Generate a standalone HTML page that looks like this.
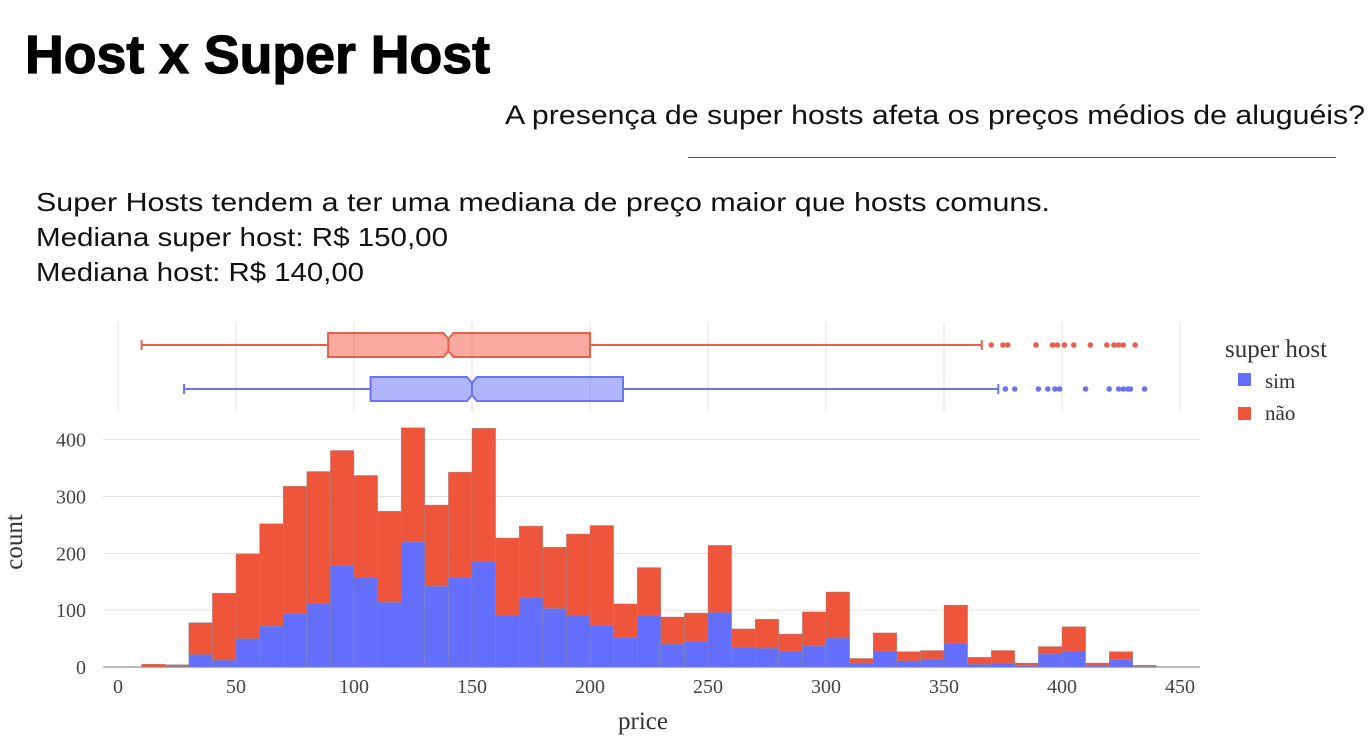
<!DOCTYPE html>
<html><head><meta charset="utf-8"><style>
html,body{margin:0;padding:0;background:#fff;}
svg{display:block;}
</style></head><body>
<svg id="chart" width="1370" height="747" viewBox="0 0 1370 747" xmlns="http://www.w3.org/2000/svg">
<text x="25" y="73" font-family="Liberation Sans, sans-serif" font-weight="bold" font-size="54" textLength="465" lengthAdjust="spacingAndGlyphs" fill="#000" stroke="#000" stroke-width="1.2">Host x Super Host</text>
<text x="505" y="124" font-family="Liberation Sans, sans-serif" font-size="27" textLength="860" lengthAdjust="spacingAndGlyphs" fill="#111">A presença de super hosts afeta os preços médios de aluguéis?</text>
<line x1="688" y1="157.5" x2="1336" y2="157.5" stroke="#555" stroke-width="1"/>
<text x="36" y="211" font-family="Liberation Sans, sans-serif" font-size="26" textLength="1014" lengthAdjust="spacingAndGlyphs" fill="#111">Super Hosts tendem a ter uma mediana de preço maior que hosts comuns.</text>
<text x="36" y="246" font-family="Liberation Sans, sans-serif" font-size="26" textLength="412" lengthAdjust="spacingAndGlyphs" fill="#111">Mediana super host: R$ 150,00</text>
<text x="36" y="281" font-family="Liberation Sans, sans-serif" font-size="26" textLength="328" lengthAdjust="spacingAndGlyphs" fill="#111">Mediana host: R$ 140,00</text>
<g id="grid"></g>
<g id="bars"></g>
<g id="boxes"></g>
<g id="axes"></g>
<text x="643" y="729" text-anchor="middle" font-family="Liberation Serif, serif" font-size="25" fill="#333">price</text>
<text transform="translate(22,542) rotate(-90)" text-anchor="middle" font-family="Liberation Serif, serif" font-size="25" fill="#333">count</text>
<g>
<text x="1225" y="357" font-family="Liberation Serif, serif" font-size="25" fill="#333">super host</text>
<rect x="1238" y="373" width="13" height="13" fill="#636EFA"/>
<text x="1265" y="388" font-family="Liberation Serif, serif" font-size="21" fill="#333">sim</text>
<rect x="1238" y="407" width="13" height="13" fill="#EF553B"/>
<text x="1265" y="420" font-family="Liberation Serif, serif" font-size="21" fill="#333">não</text>
</g>
</svg>
<script>
const binStarts = [10,20,30,40,50,60,70,80,90,100,110,120,130,140,150,160,170,180,190,200,210,220,230,240,250,260,270,280,290,300,310,320,330,340,350,360,370,380,390,400,410,420,430];
const simCounts = [0,1,22,12,50,72,94,112,178,158,114,220,142,158,185,91,122,103,91,73,52,90,40,45,96,35,33,28,37,51,7,28,11,14,41,5,7,2,23,28,3,13,1];
const naoCounts = [5,3,56,118,149,180,224,232,203,179,160,201,143,185,235,136,126,108,143,176,59,85,48,50,118,32,51,30,60,81,8,32,16,15,68,12,22,5,13,43,4,14,2];
const xTicks = [0,50,100,150,200,250,300,350,400,450];
const yTicks = [0,100,200,300,400];
const binWidth = 10;
const naoBox = {lo:10, q1:89, med:140, q3:200, hi:366};
const simBox = {lo:28, q1:107, med:150, q3:214, hi:373};
const naoOutliers = [370,375,377,389,396,398,401,405,412,419,422,424,426,431];
const simOutliers = [376,380,390,394,397,399,410,420,424,426,428,429,435];

const NS='http://www.w3.org/2000/svg';
const xs = v => 118 + v*2.36;
const ys = v => 667 - v*0.5683;
function mk(tag, attrs, parent){const e=document.createElementNS(NS,tag);for(const k in attrs)e.setAttribute(k,attrs[k]);parent.appendChild(e);return e;}
const grid=document.getElementById('grid'), bars=document.getElementById('bars'), boxes=document.getElementById('boxes'), axes=document.getElementById('axes');

xTicks.forEach(t=>{
  const l=mk('line',{x1:xs(t),x2:xs(t),y1:322,y2:411,stroke:'#e2e2e2','stroke-width':1},grid);
  
  
  const tx=mk('text',{x:xs(t),y:693,'text-anchor':'middle','font-family':'Liberation Serif, serif','font-size':20,fill:'#444'},axes);
  tx.textContent=t;
  
  
});
yTicks.forEach(t=>{
  const l=mk('line',{x1:103,x2:1200,y1:ys(t),y2:ys(t),stroke:t===0?'#bbb':'#e2e2e2','stroke-width':t===0?2:1},grid);
  
  
  const tx=mk('text',{x:86,y:ys(t)+7,'text-anchor':'end','font-family':'Liberation Serif, serif','font-size':20,fill:'#444'},axes);
  tx.textContent=t;
  
  
});

binStarts.forEach((b,i)=>{
  const x0=xs(b), w=xs(b+binWidth)-x0, s=simCounts[i], n=naoCounts[i];
  const r1=mk('rect',{x:x0,y:ys(s),width:w,height:ys(0)-ys(s),fill:'#636EFA',stroke:'#8a8a9a','stroke-width':0.4},bars);
  
  
  const r2=mk('rect',{x:x0,y:ys(s+n),width:w,height:ys(s)-ys(s+n),fill:'#EF553B',stroke:'#9a8a8a','stroke-width':0.4},bars);
  
  
});

function drawBox(bx, cy, color, fill, outs, name){
  const h=12, nh=6;
  const wl=mk('line',{x1:xs(bx.lo),x2:xs(bx.q1),y1:cy,y2:cy,stroke:color,'stroke-width':2},boxes);
  
  
  const wh=mk('line',{x1:xs(bx.q3),x2:xs(bx.hi),y1:cy,y2:cy,stroke:color,'stroke-width':2},boxes);
  
  
  [bx.lo,bx.hi].forEach(v=>{
    const c=mk('line',{x1:xs(v),x2:xs(v),y1:cy-5,y2:cy+5,stroke:color,'stroke-width':2},boxes);
    
    
  });
  const m=xs(bx.med), a=xs(bx.q1), b=xs(bx.q3), n=5;
  const d=`M${a},${cy-h} L${m-n},${cy-h} L${m},${cy-h+nh} L${m+n},${cy-h} L${b},${cy-h} L${b},${cy+h} L${m+n},${cy+h} L${m},${cy+h-nh} L${m-n},${cy+h} L${a},${cy+h} Z`;
  const p=mk('path',{d:d,fill:fill,stroke:color,'stroke-width':2},boxes);
  
  
  const ml=mk('line',{x1:m,x2:m,y1:cy-h+nh,y2:cy+h-nh,stroke:color,'stroke-width':2},boxes);
  
  
  outs.forEach(v=>{
    const c=mk('circle',{cx:xs(v),cy:cy,r:2.8,fill:color},boxes);
    
    
  });
}
drawBox(naoBox,345,'#E8604A','rgba(239,85,59,0.5)',naoOutliers,'box-nao');
drawBox(simBox,389,'#6A74F0','rgba(99,110,250,0.5)',simOutliers,'box-sim');
</script>
</body></html>
